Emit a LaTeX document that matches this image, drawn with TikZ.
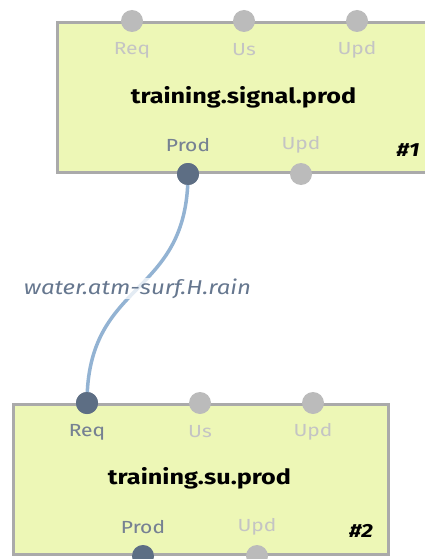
\documentclass[tikz,border=0pt]{standalone}
\usepackage{fontspec}
\setmainfont[FakeStretch=1.2]{Fira Sans}
\usetikzlibrary{calc,positioning}

\definecolor{boxfill}{HTML}{EDF7B6}
\definecolor{boxline}{HTML}{AAAAAA}
\definecolor{portoff}{HTML}{BBBBBB}
\definecolor{porton}{HTML}{5D6E84}
\definecolor{textoff}{HTML}{C4C4C4}
\definecolor{texton}{HTML}{768290}
\definecolor{wire}{HTML}{93B3D3}
\definecolor{wiretext}{HTML}{66778F}

\begin{document}
\begin{tikzpicture}[
x=1pt,y=-1pt,
block/.style={
	draw=boxline,
	fill=boxfill,
	line width=3pt,
	minimum width=375pt,
	minimum height=150pt,
	anchor=north west
},
port/.style={
	fill=portoff,
	circle,
	minimum size=22pt,
	inner sep=0pt
},
active/.style={
	fill=porton
},
portlabel/.style={
	text=textoff,
	font=\fontsize{17.5}{19}\selectfont
},
title/.style={
	font=\fontsize{21}{24}\selectfont\bfseries
},
tag/.style={
	font=\fontsize{19}{21}\selectfont\bfseries\itshape
},
link/.style={
	draw=wire,
	line width=3.5pt
}
]
\useasboundingbox (0,0) rectangle (425,559);

% first block
\node[block] (sig) at (56,21) {};
\node[title] (sig-title) at (243.5,97) {training.signal.prod};
\node[tag] (sig-tag) at (408,150) {\#1};
\foreach \n/\l/\dx in {req/Req/76, us/Us/188, upd/Upd/301}
{
\node[port] (sig-\n) at ($(sig.north west)+(\dx,0)$) {};
\node[portlabel] (sig-\n-l) at ($(sig-\n)+(0,29)$) {\l};
}
\foreach \n/\l/\dx in {prod/Prod/132, upd2/Upd/245}
{
\node[port] (sig-\n) at ($(sig.south west)+(\dx,0)$) {};
\node[portlabel] (sig-\n-l) at ($(sig-\n)+(0,-29)$) {\l};
}
\node[port,active] at (sig-prod) {};
\node[portlabel,text=texton] at (sig-prod-l) {Prod};

% second block
\node[block] (su) at (12,403) {};
\node[title] (su-title) at (199.5,478) {training.su.prod};
\node[tag] (su-tag) at (361,531) {\#2};
\foreach \n/\l/\dx in {req/Req/75, us/Us/188, upd/Upd/301}
{
\node[port] (su-\n) at ($(su.north west)+(\dx,0)$) {};
\node[portlabel] (su-\n-l) at ($(su-\n)+(0,29)$) {\l};
}
\foreach \n/\l/\dx in {prod/Prod/131, upd2/Upd/245}
{
\node[port] (su-\n) at ($(su.south west)+(\dx,0)$) {};
\node[portlabel] (su-\n-l) at ($(su-\n)+(0,-29)$) {\l};
}
\node[port,active] at (su-req) {};
\node[portlabel,text=texton] at (su-req-l) {Req};
\node[port,active] at (su-prod) {};
\node[portlabel,text=texton] at (su-prod-l) {Prod};

% connection
\draw[link] (sig-prod.center) .. controls ($(sig-prod.center)+(0,125)$) and ($(su-req.center)+(0,-125)$) .. (su-req.center)
	node[pos=0.5,fill=white,fill opacity=0.75,text opacity=1,inner sep=1pt,text=wiretext,
	font=\fontsize{20}{22}\selectfont\itshape] (wire-l) {water.atm-surf.H.rain};
\node[port,active] at (sig-prod) {};
\node[port,active] at (su-req) {};
\end{tikzpicture}
\end{document}
